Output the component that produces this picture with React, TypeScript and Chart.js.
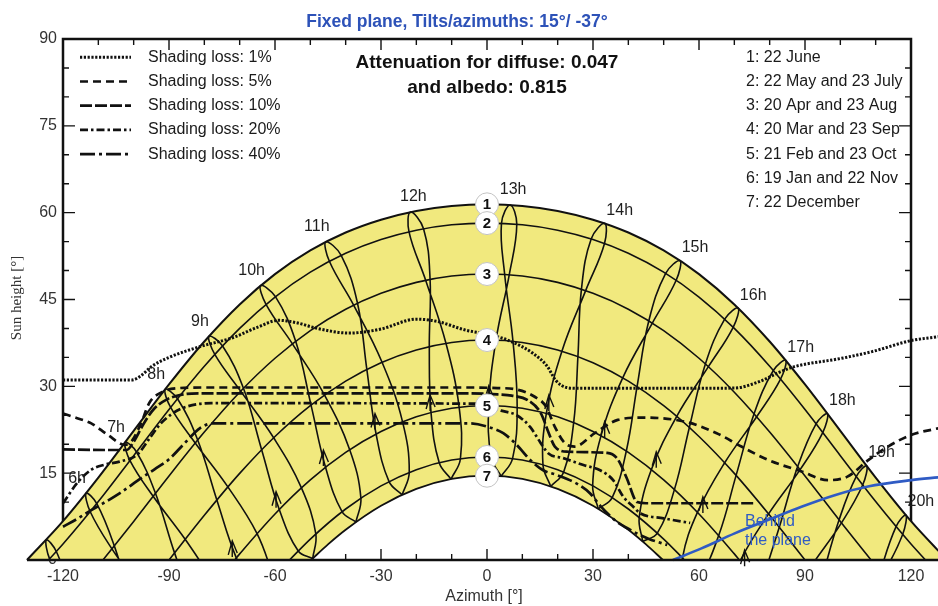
import React, { useEffect, useRef } from 'react';
import { Chart, registerables } from 'chart.js';

Chart.register(...registerables);

const SANS = '"Liberation Sans", Arial, Helvetica, sans-serif';
const SERIF = '"Liberation Serif", "Times New Roman", serif';
const INK = '#111111';
const SUN_YELLOW = '#f1e97e';
const PLANE_BLUE = '#2f5bc4';
const TITLE_BLUE = '#2d52b8';

// Axis window (degrees)
const AZ_MIN = -137.83;
const AZ_MAX = 127.64;
const H_MIN = -7.946;
const H_MAX = 96.737;

const X_TICK_LABELS = [-120, -90, -60, -30, 0, 30, 60, 90, 120];
const Y_TICK_LABELS = [0, 15, 30, 45, 60, 75, 90];

// ---- Date curves (azimuth, sun height) ----
const AZ_JUNE = [-130.2, -120, -110, -100, -90, -80, -70, -60, -50, -40, -30, -20, -10, 0, 10, 20, 30, 40, 50, 60, 70, 80, 90, 100, 110, 120, 130.2];
const H_JUNE = [0, 6.71, 14.23, 22.3, 30.32, 37.74, 44.15, 49.39, 53.48, 56.57, 58.79, 60.3, 61.16, 61.44, 61.16, 60.3, 58.79, 56.57, 53.48, 49.39, 44.15, 37.74, 30.32, 22.3, 14.23, 6.71, 0];
const AZ_MAYJUL = [-124.1, -120, -110, -100, -90, -80, -70, -60, -50, -40, -30, -20, -10, 0, 10, 20, 30, 40, 50, 60, 70, 80, 90, 100, 110, 120, 124.1];
const H_MAYJUL = [0, 2.75, 10.09, 18.02, 25.99, 33.46, 40.01, 45.43, 49.72, 52.99, 55.36, 56.97, 57.9, 58.2, 57.9, 56.97, 55.36, 52.99, 49.72, 45.43, 40.01, 33.46, 25.99, 18.02, 10.09, 2.75, 0];
const AZ_APRAUG = [-108.7, -100, -90, -80, -70, -60, -50, -40, -30, -20, -10, 0, 10, 20, 30, 40, 50, 60, 70, 80, 90, 100, 108.7];
const H_APRAUG = [0, 6.67, 14.53, 22.11, 28.99, 34.85, 39.63, 43.33, 46.07, 47.96, 49.05, 49.4, 49.05, 47.96, 46.07, 43.33, 39.63, 34.85, 28.99, 22.11, 14.53, 6.67, 0];
const AZ_MARSEP = [-90, -80, -70, -60, -50, -40, -30, -20, -10, 0, 10, 20, 30, 40, 50, 60, 70, 80, 90];
const H_MARSEP = [0, 7.72, 14.96, 21.34, 26.67, 30.9, 34.08, 36.29, 37.58, 38.0, 37.58, 36.29, 34.08, 30.9, 26.67, 21.34, 14.96, 7.72, 0];
const AZ_FEBOCT = [-71.45, -70, -60, -50, -40, -30, -20, -10, 0, 10, 20, 30, 40, 50, 60, 70, 71.45];
const H_FEBOCT = [0, 1.06, 7.95, 13.83, 18.58, 22.2, 24.73, 26.22, 26.7, 26.22, 24.73, 22.2, 18.58, 13.83, 7.95, 1.06, 0];
const AZ_JANNOV = [-55.9, -50, -40, -30, -20, -10, 0, 10, 20, 30, 40, 50, 55.9];
const H_JANNOV = [0, 3.62, 8.81, 12.8, 15.61, 17.26, 17.8, 17.26, 15.61, 12.8, 8.81, 3.62, 0];
const AZ_DEC = [-49.8, -45, -40, -30, -20, -10, 0, 10, 20, 30, 40, 45, 49.8];
const H_DEC = [0, 2.7, 5.23, 9.37, 12.28, 14.0, 14.56, 14.0, 12.28, 9.37, 5.23, 2.7, 0];

// ---- Hour lines (legal time), [azimuth, height] through the year ----
const HOUR_05 = [[-117.43, -6.15], [-121.89, 1.47], [-124.71, 3.48], [-123.8, 0.2], [-118.15, -6.62]];
const HOUR_06 = [[-100.31, -7.96], [-105.48, 2.44], [-110.44, 9.75], [-113.46, 11.54], [-112.29, 8.34], [-106.15, 1.93], [-97.28, -5.65]];
const HOUR_07 = [[-82.64, -8.6], [-88.43, 1.23], [-93.83, 11.52], [-99.19, 18.66], [-102.42, 20.32], [-101.04, 17.18], [-94.49, 11.0], [-85.43, 3.57], [-76.94, -4.16]];
const HOUR_08 = [[-65.07, -6.37], [-70.95, 0.37], [-76.46, 10.37], [-81.88, 20.74], [-87.59, 27.86], [-91.08, 29.47], [-89.53, 26.35], [-82.58, 20.21], [-73.34, 12.63], [-65.08, 4.57], [-60.37, -3.0]];
const HOUR_09 = [[-49.34, 0.25], [-53.42, 1.56], [-58.79, 8.72], [-63.78, 19.04], [-68.93, 29.67], [-74.84, 36.97], [-78.68, 38.65], [-77.04, 35.51], [-69.72, 29.17], [-60.39, 21.11], [-52.52, 12.46], [-48.45, 4.5], [-49.34, 0.25]];
const HOUR_10 = [[-37.1, 6.57], [-41.03, 8.34], [-45.7, 16.02], [-49.8, 26.76], [-54.15, 37.78], [-59.88, 45.49], [-64.08, 47.4], [-62.54, 44.16], [-55.07, 37.34], [-45.98, 28.5], [-38.86, 19.06], [-35.69, 10.68], [-37.1, 6.57]];
const HOUR_11 = [[-24.0, 11.26], [-27.72, 13.54], [-31.39, 21.77], [-34.01, 32.93], [-36.65, 44.36], [-41.27, 52.62], [-45.63, 54.96], [-44.61, 51.6], [-37.75, 44.04], [-29.7, 34.17], [-23.9, 23.87], [-22.0, 15.14], [-24.0, 11.26]];
const HOUR_12 = [[-10.18, 13.97], [-13.52, 16.8], [-15.84, 25.47], [-16.33, 36.86], [-16.11, 48.48], [-17.96, 57.22], [-21.68, 60.11], [-22.07, 56.69], [-17.36, 48.32], [-11.62, 37.43], [-7.89, 26.4], [-7.52, 17.49], [-10.18, 13.97]];
const HOUR_13 = [[4.01, 14.47], [1.18, 17.79], [0.49, 26.71], [2.54, 37.97], [6.29, 49.27], [8.43, 57.98], [6.55, 61.33], [4.09, 58.14], [5.0, 49.32], [7.35, 37.78], [8.54, 26.35], [7.23, 17.52], [4.01, 14.47]];
const HOUR_14 = [[18.05, 12.7], [15.84, 16.43], [16.8, 25.32], [21.2, 36.07], [27.92, 46.54], [33.26, 54.68], [33.31, 58.15], [29.48, 55.46], [26.73, 46.79], [25.73, 35.14], [24.53, 23.72], [21.7, 15.21], [18.05, 12.7]];
const HOUR_15 = [[31.49, 8.84], [29.9, 12.84], [32.28, 21.48], [38.41, 31.47], [46.79, 40.93], [53.54, 48.32], [54.63, 51.72], [50.56, 49.51], [45.8, 41.32], [42.47, 29.96], [39.43, 18.83], [35.43, 10.79], [31.49, 8.84]];
const HOUR_16 = [[44.08, 3.19], [43.08, 7.34], [46.53, 15.62], [53.7, 24.83], [62.66, 33.4], [69.67, 40.2], [71.09, 43.51], [67.27, 41.6], [61.81, 33.87], [57.27, 22.9], [53.04, 12.16], [48.2, 4.63], [44.08, 3.19]];
const HOUR_17 = [[55.91, -3.89], [55.32, 0.36], [59.55, 8.24], [67.27, 16.8], [76.32, 24.75], [83.08, 31.24], [84.53, 34.49], [81.03, 32.73], [75.59, 25.27], [70.5, 14.62], [65.57, 4.23], [60.14, -2.84], [55.91, -3.89]];
const HOUR_18 = [[66.89, -7.72], [71.65, -0.15], [79.69, 7.96], [88.61, 15.61], [95.02, 22.02], [96.33, 25.27], [93.13, 23.52], [87.93, 16.14], [82.72, 5.65], [77.4, -4.51]];
const HOUR_19 = [[83.34, -9.16], [91.57, -1.23], [100.32, 6.42], [106.32, 12.96], [107.45, 16.25], [104.49, 14.41], [99.65, 6.94], [94.57, -3.57]];
const HOUR_20 = [[103.54, -10.37], [112.08, -2.44], [117.64, 4.41], [118.54, 7.76], [115.77, 5.76], [111.39, -1.94], [106.66, -12.63]];

const HOUR_LINES = [HOUR_05, HOUR_06, HOUR_07, HOUR_08, HOUR_09, HOUR_10, HOUR_11, HOUR_12, HOUR_13, HOUR_14, HOUR_15, HOUR_16, HOUR_17, HOUR_18, HOUR_19, HOUR_20];
const HOUR_NAMES = ['', '6h', '7h', '8h', '9h', '10h', '11h', '12h', '13h', '14h', '15h', '16h', '17h', '18h', '19h', '20h'];

// ---- Shading loss iso-curves ----
const LOSS_01 = [[-120, 31.1], [-100.5, 31.1], [-98, 31.8], [-95, 33.4], [-90, 35.0], [-81, 36.9], [-72, 38.4], [-65, 40.2], [-59, 41.4], [-54, 41.0], [-48, 40.0], [-39, 39.2], [-30, 39.9], [-20, 41.6], [-14, 41.2], [-6, 39.7], [1, 38.9], [7, 37.7], [13, 35.7], [17, 33.5], [19.5, 31.0], [22.5, 29.8], [26, 29.65], [50, 29.65], [70, 29.7], [77, 30.8], [83, 32.5], [87, 33.4], [100, 34.8], [109, 36.0], [120, 37.9], [128, 38.6]];
const LOSS_05 = [[-120, 25.3], [-116, 24.5], [-112, 23.6], [-107.3, 21.6], [-102.5, 19.9], [-100.5, 20.6], [-98, 23.5], [-95.5, 27.2], [-92, 29.0], [-87, 29.7], [-80, 29.8], [-5, 29.8], [3, 29.7], [8, 29.5], [13.5, 28.2], [16.7, 26.5], [19.2, 23.0], [22, 20.2], [24.8, 19.6], [30.5, 21.9], [37, 24.2], [44, 24.6], [56, 23.9], [65, 21.9], [72, 19.6], [79.5, 17.3], [89, 15.3], [96.5, 13.8], [102, 14.4], [108, 17.3], [113.5, 19.6], [120, 21.6], [128, 22.8]];
const LOSS_10 = [[-120, 19.1], [-108, 19.0], [-102, 19.0], [-100, 20.4], [-97.3, 23.4], [-94.4, 26.0], [-90.7, 27.7], [-86, 28.6], [-81, 28.8], [-5, 28.8], [3, 28.6], [7, 28.4], [11.6, 27.6], [15.3, 25.3], [17.3, 22.2], [19.2, 19.6], [22.9, 18.7], [34, 18.5], [37, 17.4], [39.5, 14.2], [42.5, 10.0], [45, 9.8], [75.4, 9.8]];
const LOSS_20 = [[-120, 9.8], [-116, 13.3], [-112, 15.6], [-108, 16.5], [-104, 17.0], [-99, 18.2], [-95.4, 21.1], [-92.6, 23.4], [-88.8, 25.4], [-85, 26.5], [-78, 27.1], [-3, 27.0], [0.8, 26.4], [4, 25.8], [8.4, 25.0], [12.2, 23.0], [15, 20.4], [17.4, 18.4], [21.6, 17.6], [27.3, 16.4], [32, 15.5], [35.7, 13.8], [38.6, 10.9], [41.4, 9.2], [43.3, 8.1], [50, 7.2], [57.5, 6.4]];
const LOSS_40 = [[-120, 5.75], [-116, 7.1], [-112, 8.6], [-104, 11.5], [-98, 14.1], [-94, 15.7], [-90, 17.4], [-86, 19.9], [-81.2, 22.8], [-77.5, 23.6], [-5, 23.6], [0.8, 22.9], [4.6, 21.9], [8.4, 19.9], [12.2, 17.3], [15.9, 15.5], [19.7, 14.7], [25.4, 13.2], [29.2, 11.5], [32, 9.4], [36.7, 6.6], [40, 5.4], [43.3, 4.3], [46, 3.6], [51, 2.6]];
const LOSS_CURVES = [LOSS_01, LOSS_05, LOSS_10, LOSS_20, LOSS_40];
const LOSS_LABELS = ['Shading loss: 1%', 'Shading loss: 5%', 'Shading loss: 10%', 'Shading loss: 20%', 'Shading loss: 40%'];

// ---- "Behind the plane" limit ----
const BEHIND_AZ = [52.6, 60.7, 70.1, 79.5, 89.0, 98.4, 107.8, 120.1, 128];
const BEHIND_H = [0, 2.0, 4.6, 6.9, 9.2, 11.2, 12.7, 13.8, 14.3];

// ---- direction arrows on hour lines ----
const ARROW_AZ = [-72.1, -59.7, -46.3, -31.7, -16.1, 0.5, 17.5, 33.3, 47.9, 61.1, 72.9];
const ARROW_H = [3.3, 11.8, 19.0, 25.3, 28.5, 30.1, 28.5, 23.9, 18.7, 10.9, 1.7];

const DATE_LEGEND = ['1: 22 June', '2: 22 May and 23 July', '3: 20 Apr and 23 Aug', '4: 20 Mar and 23 Sep', '5: 21 Feb and 23 Oct', '6: 19 Jan and 22 Nov', '7: 22 December'];
const TITLE = 'Fixed plane, Tilts/azimuths: 15°/ -37°';
const NOTE_LINES = ['Attenuation for diffuse: 0.047', 'and albedo: 0.815'];

const DATE_CURVES = [
  [AZ_JUNE, H_JUNE], [AZ_MAYJUL, H_MAYJUL], [AZ_APRAUG, H_APRAUG], [AZ_MARSEP, H_MARSEP],
  [AZ_FEBOCT, H_FEBOCT], [AZ_JANNOV, H_JANNOV], [AZ_DEC, H_DEC],
];

const LOSS_STYLES = [
  { dash: [2.2, 1.6], width: 3 },
  { dash: [8, 5], width: 2.7 },
  { dash: [12, 3], width: 2.7 },
  { dash: [8, 3, 2.5, 3], width: 2.7 },
  { dash: [15, 4, 3, 4], width: 2.7 },
];

const W = 938;
const H = 606;

const zip = (a: number[], b: number[]) => a.map((x, i) => ({ x, y: b[i] }));
const pairs = (arr: number[][]) => arr.map(([x, y]) => ({ x, y }));

const decor = {
  id: 'sunDecor',
  beforeDraw(chart: any) {
    const ctx = chart.ctx;
    const X = (v: number) => chart.scales.x.getPixelForValue(v);
    const Y = (v: number) => chart.scales.y.getPixelForValue(v);
    ctx.save();
    ctx.strokeStyle = INK;
    ctx.lineWidth = 2.5;
    ctx.beginPath();
    ctx.moveTo(X(-120), Y(0));
    ctx.lineTo(X(-120), Y(90));
    ctx.lineTo(X(120), Y(90));
    ctx.lineTo(X(120), Y(0));
    ctx.stroke();
    ctx.lineWidth = 1.4;
    for (let v = -120; v <= 120; v += 10) {
      const len = v % 30 === 0 ? 11 : 6;
      ctx.beginPath();
      ctx.moveTo(X(v), Y(90));
      ctx.lineTo(X(v), Y(90) + len);
      ctx.moveTo(X(v), Y(0));
      ctx.lineTo(X(v), Y(0) - len);
      ctx.stroke();
    }
    for (let v = 0; v <= 90; v += 5) {
      const len = v % 15 === 0 ? 12 : 6;
      ctx.beginPath();
      ctx.moveTo(X(-120), Y(v));
      ctx.lineTo(X(-120) + len, Y(v));
      ctx.moveTo(X(120), Y(v));
      ctx.lineTo(X(120) - len, Y(v));
      ctx.stroke();
    }
    ctx.fillStyle = '#333';
    ctx.font = `16px ${SANS}`;
    ctx.textBaseline = 'middle';
    ctx.textAlign = 'center';
    X_TICK_LABELS.forEach((v) => ctx.fillText(String(v), X(v), Y(0) + 17));
    ctx.textAlign = 'right';
    Y_TICK_LABELS.forEach((v) => ctx.fillText(String(v), X(-120) - 6, Y(v)));
    ctx.restore();
  },
  afterDatasetsDraw(chart: any) {
    const ctx = chart.ctx;
    const X = (v: number) => chart.scales.x.getPixelForValue(v);
    const Y = (v: number) => chart.scales.y.getPixelForValue(v);
    ctx.save();
    // horizon / x axis line
    ctx.strokeStyle = INK;
    ctx.lineWidth = 2.5;
    ctx.beginPath();
    ctx.moveTo(X(-130.2), Y(0));
    ctx.lineTo(X(AZ_MAX), Y(0));
    ctx.stroke();
    // ticks visible inside the low (white) dome
    ctx.lineWidth = 1.4;
    for (let v = -40; v <= 40; v += 10) {
      const len = v % 30 === 0 ? 11 : 6;
      ctx.beginPath();
      ctx.moveTo(X(v), Y(0));
      ctx.lineTo(X(v), Y(0) - len);
      ctx.stroke();
    }
    // arrows
    ctx.lineWidth = 1.4;
    ARROW_AZ.forEach((az, i) => {
      const px = X(az);
      const py = Y(ARROW_H[i]);
      ctx.beginPath();
      ctx.moveTo(px - 4, py + 14);
      ctx.lineTo(px, py);
      ctx.lineTo(px + 5, py + 12);
      ctx.moveTo(px, py);
      ctx.lineTo(px, py + 16);
      ctx.stroke();
    });
    // date circles
    DATE_CURVES.forEach(([az, h], i) => {
      const noon = h[az.indexOf(0)];
      const px = X(0);
      const py = Y(noon);
      ctx.beginPath();
      ctx.arc(px, py, 11.5, 0, Math.PI * 2);
      ctx.fillStyle = '#ffffff';
      ctx.fill();
      ctx.strokeStyle = '#c4c4c4';
      ctx.lineWidth = 1;
      ctx.stroke();
      ctx.fillStyle = '#111';
      ctx.font = `bold 15px ${SANS}`;
      ctx.textAlign = 'center';
      ctx.textBaseline = 'middle';
      ctx.fillText(String(i + 1), px, py + 1);
    });
    // hour labels
    ctx.fillStyle = '#1e1e1e';
    ctx.font = `16px ${SANS}`;
    ctx.textAlign = 'center';
    ctx.textBaseline = 'middle';
    HOUR_LINES.forEach((line, i) => {
      const name = HOUR_NAMES[i];
      if (!name) return;
      let top = line[0];
      line.forEach((p) => { if (p[1] > top[1]) top = p; });
      let dx = 15, dy = -13;
      if (top[0] < -30) { dx = -9; dy = -15; } else if (top[0] < 15) { dx = 3; dy = -15; }
      ctx.fillText(name, X(top[0]) + dx, Y(top[1]) + dy);
    });
    // "Behind the plane"
    ctx.fillStyle = PLANE_BLUE;
    ctx.textAlign = 'left';
    ctx.font = `16px ${SANS}`;
    ctx.fillText('Behind', 745, 522);
    ctx.fillText('the plane', 745, 541);
    // shading legend
    ctx.strokeStyle = INK;
    ctx.fillStyle = '#1a1a1a';
    LOSS_LABELS.forEach((label, i) => {
      const y = 57.3 + i * 24.2;
      ctx.setLineDash(LOSS_STYLES[i].dash);
      ctx.lineWidth = LOSS_STYLES[i].width;
      ctx.beginPath();
      ctx.moveTo(80, y);
      ctx.lineTo(131, y);
      ctx.stroke();
      ctx.setLineDash([]);
      ctx.fillText(label, 148, y);
    });
    // date legend
    DATE_LEGEND.forEach((label, i) => ctx.fillText(label, 746, 57.3 + i * 24.2));
    // note
    ctx.textAlign = 'center';
    ctx.font = `bold 19px ${SANS}`;
    ctx.fillStyle = '#111';
    ctx.fillText(NOTE_LINES[0], X(0), 63);
    ctx.fillText(NOTE_LINES[1], X(0), 88);
    // title
    ctx.font = `bold 17.5px ${SANS}`;
    ctx.fillStyle = TITLE_BLUE;
    ctx.fillText(TITLE, 457, 22);
    // axis titles
    ctx.font = `16px ${SANS}`;
    ctx.fillStyle = '#333';
    ctx.fillText('Azimuth [°]', 484, 597);
    ctx.save();
    ctx.translate(17, 298);
    ctx.rotate(-Math.PI / 2);
    ctx.font = `15px ${SERIF}`;
    ctx.fillText('Sun height [°]', 0, 0);
    ctx.restore();
    ctx.restore();
  },
};

export default function App() {
  const ref = useRef<HTMLCanvasElement | null>(null);
  useEffect(() => {
    if (!ref.current) return;
    const horizonPad = Math.round((H * (0 - H_MIN)) / (H_MAX - H_MIN));
    const hourClip = { left: false, right: false, top: false, bottom: -horizonPad };
    const datasets: any[] = [];
    LOSS_CURVES.forEach((c, i) => {
      datasets.push({
        data: pairs(c), borderColor: INK, borderWidth: LOSS_STYLES[i].width, borderDash: LOSS_STYLES[i].dash,
        pointRadius: 0, cubicInterpolationMode: 'monotone', fill: false, clip: false,
      });
    });
    datasets.push({
      data: zip(BEHIND_AZ, BEHIND_H), borderColor: PLANE_BLUE, borderWidth: 2.6, pointRadius: 0,
      cubicInterpolationMode: 'monotone', fill: false, clip: false,
    });
    HOUR_LINES.forEach((l) => {
      datasets.push({
        data: pairs(l), borderColor: INK, borderWidth: 1.6, pointRadius: 0, tension: 0.4, fill: false, clip: hourClip,
      });
    });
    for (let i = 1; i <= 5; i++) {
      const [az, h] = DATE_CURVES[i];
      datasets.push({
        data: zip(az, h), borderColor: INK, borderWidth: 1.6, pointRadius: 0, cubicInterpolationMode: 'monotone',
        fill: false, clip: false,
      });
    }
    datasets.push({
      data: zip(AZ_DEC, H_DEC), borderColor: INK, borderWidth: 1.8, pointRadius: 0, cubicInterpolationMode: 'monotone',
      fill: 'origin', backgroundColor: '#ffffff', clip: false,
    });
    datasets.push({
      data: zip(AZ_JUNE, H_JUNE), borderColor: INK, borderWidth: 2, pointRadius: 0, cubicInterpolationMode: 'monotone',
      fill: 'origin', backgroundColor: SUN_YELLOW, clip: false,
    });

    const chart = new Chart(ref.current, {
      type: 'line',
      data: { datasets },
      options: {
        animation: false,
        responsive: false,
        devicePixelRatio: 1,
        events: [],
        layout: { padding: 0, autoPadding: false },
        scales: {
          x: { type: 'linear', min: AZ_MIN, max: AZ_MAX, display: false },
          y: { type: 'linear', min: H_MIN, max: H_MAX, display: false },
        },
        plugins: {
          legend: { display: false },
          tooltip: { enabled: false },
          title: { display: false },
          filler: { propagate: false, drawTime: 'beforeDatasetsDraw' },
        },
      } as any,
      plugins: [decor as any],
    });
    return () => chart.destroy();
  }, []);
  return (
    <div style={{ position: 'fixed', left: 0, top: 0, width: W, height: H, background: '#ffffff' }}>
      <canvas ref={ref} width={W} height={H} style={{ width: W, height: H, display: 'block' }} />
    </div>
  );
}
